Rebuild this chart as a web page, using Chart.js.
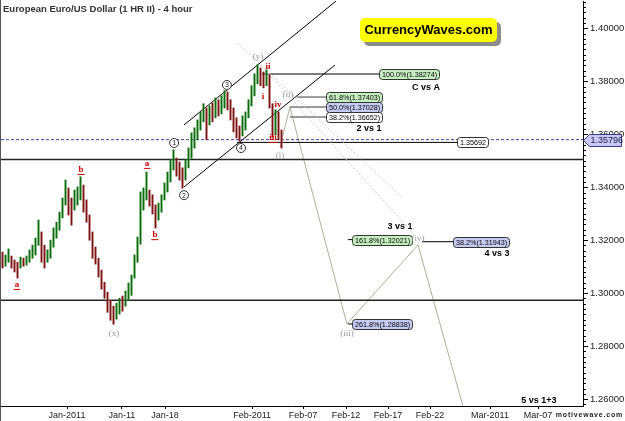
<!DOCTYPE html>
<html>
<head>
<meta charset="utf-8">
<script src="https://cdn.jsdelivr.net/npm/chart.js@4.4.0/dist/chart.umd.min.js"></script>
<style>
html, body { margin: 0; padding: 0; background: #fff; }
canvas { display: block; }
</style>
</head>
<body>
<canvas id="price_chart" width="625" height="421"></canvas>
<script>
// === price bars (one slot = ~8 hours) ===
const barOpen = [
    1.3144, 1.3114, 1.3125, 1.3132, 1.3117, 1.3102, 1.3098, 1.3125, 1.3114, 1.3125,
    1.3144, 1.3155, 1.3189, 1.3216, 1.3144, 1.3125, 1.3147, 1.3181, 1.3223, 1.3249,
    1.3299, 1.3352, 1.3382, 1.3333, 1.3329, 1.3352, 1.3367, 1.3397, 1.3333, 1.3276,
    1.3216, 1.3163, 1.3125, 1.3072, 1.3030, 1.2992, 1.2954, 1.2928, 1.2913, 1.2928,
    1.2977, 1.2958, 1.2985, 1.3008, 1.3068, 1.3132, 1.3200, 1.3333, 1.3367, 1.3382,
    1.3359, 1.3314, 1.3287, 1.3318, 1.3363, 1.3397, 1.3435, 1.3480, 1.3503, 1.3480,
    1.3457, 1.3439, 1.3488, 1.3526, 1.3567, 1.3594, 1.3628, 1.3662, 1.3684, 1.3647,
    1.3707, 1.3677, 1.3718, 1.3692, 1.3715, 1.3749, 1.3715, 1.3681, 1.3639, 1.3616,
    1.3605, 1.3635, 1.3677, 1.3722, 1.3760, 1.3805, 1.3839, 1.3820, 1.3798, 1.3813,
    1.3707, 1.3609, 1.3673, 1.3601
];
const barHigh = [
    1.3155, 1.3144, 1.3167, 1.3140, 1.3125, 1.3117, 1.3136, 1.3132, 1.3140, 1.3163,
    1.3181, 1.3208, 1.3276, 1.3231, 1.3181, 1.3163, 1.3200, 1.3246, 1.3268, 1.3306,
    1.3359, 1.3427, 1.3397, 1.3359, 1.3389, 1.3401, 1.3439, 1.3408, 1.3352, 1.3295,
    1.3231, 1.3174, 1.3132, 1.3087, 1.3041, 1.3004, 1.2973, 1.2951, 1.2962, 1.2981,
    1.2989, 1.3008, 1.3038, 1.3068, 1.3144, 1.3212, 1.3382, 1.3397, 1.3457, 1.3389,
    1.3371, 1.3333, 1.3340, 1.3371, 1.3416, 1.3457, 1.3503, 1.3541, 1.3510, 1.3495,
    1.3473, 1.3503, 1.3548, 1.3605, 1.3624, 1.3654, 1.3684, 1.3715, 1.3699, 1.3707,
    1.3718, 1.3737, 1.3730, 1.3745, 1.3764, 1.3760, 1.3730, 1.3699, 1.3662, 1.3631,
    1.3669, 1.3684, 1.3730, 1.3783, 1.3828, 1.3862, 1.3850, 1.3835, 1.3843, 1.3824,
    1.3715, 1.3692, 1.3684, 1.3616
];
const barLow = [
    1.3095, 1.3102, 1.3117, 1.3095, 1.3080, 1.3057, 1.3095, 1.3102, 1.3106, 1.3117,
    1.3132, 1.3144, 1.3181, 1.3117, 1.3095, 1.3117, 1.3132, 1.3174, 1.3208, 1.3238,
    1.3284, 1.3333, 1.3295, 1.3257, 1.3314, 1.3333, 1.3352, 1.3306, 1.3268, 1.3200,
    1.3132, 1.3110, 1.3061, 1.3015, 1.2981, 1.2928, 1.2898, 1.2883, 1.2902, 1.2921,
    1.2932, 1.2951, 1.2973, 1.2992, 1.3057, 1.3117, 1.3185, 1.3314, 1.3352, 1.3329,
    1.3299, 1.3246, 1.3276, 1.3306, 1.3352, 1.3382, 1.3420, 1.3465, 1.3442, 1.3427,
    1.3397, 1.3427, 1.3473, 1.3510, 1.3548, 1.3579, 1.3616, 1.3647, 1.3579, 1.3635,
    1.3647, 1.3662, 1.3669, 1.3677, 1.3699, 1.3692, 1.3654, 1.3609, 1.3586, 1.3575,
    1.3594, 1.3616, 1.3662, 1.3707, 1.3745, 1.3790, 1.3783, 1.3775, 1.3783, 1.3699,
    1.3590, 1.3597, 1.3579, 1.3548
];
const barClose = [
    1.3106, 1.3136, 1.3155, 1.3106, 1.3087, 1.3083, 1.3129, 1.3110, 1.3132, 1.3155,
    1.3170, 1.3200, 1.3246, 1.3132, 1.3117, 1.3155, 1.3189, 1.3231, 1.3257, 1.3295,
    1.3344, 1.3405, 1.3314, 1.3284, 1.3374, 1.3389, 1.3420, 1.3321, 1.3284, 1.3216,
    1.3155, 1.3132, 1.3072, 1.3030, 1.2996, 1.2943, 1.2913, 1.2906, 1.2951, 1.2973,
    1.2943, 1.3000, 1.3026, 1.3057, 1.3132, 1.3197, 1.3367, 1.3382, 1.3389, 1.3340,
    1.3310, 1.3268, 1.3329, 1.3359, 1.3405, 1.3442, 1.3488, 1.3522, 1.3457, 1.3442,
    1.3427, 1.3491, 1.3533, 1.3586, 1.3613, 1.3639, 1.3669, 1.3699, 1.3605, 1.3692,
    1.3669, 1.3722, 1.3684, 1.3734, 1.3749, 1.3707, 1.3669, 1.3624, 1.3601, 1.3594,
    1.3654, 1.3673, 1.3715, 1.3768, 1.3813, 1.3843, 1.3798, 1.3790, 1.3828, 1.3715,
    1.3609, 1.3677, 1.3594, 1.3571
];

// === axes ===
const slotMin = -0.5, slotMax = 193.5;
const priceMin = 1.2574, priceMax = 1.4103;
const tickSlots = [21.5, 39.8, 54.2, 83.2, 100.2, 114.5, 128.5, 142.5, 162.5, 178.5];
const tickLabels = ['Jan-2011', 'Jan-11', 'Jan-18', 'Feb-2011', 'Feb-07', 'Feb-12', 'Feb-17', 'Feb-22', 'Mar-2011', 'Mar-07'];

// === drawn studies ===
const upperChannel = [[60.5, 1.3635], [111.2, 1.4103]];
const lowerChannel = [[60.5, 1.3401], [110.8, 1.3861]];
const projection = [[92.5, 1.3550], [95.8, 1.37028], [114.8, 1.28838], [138.5, 1.3182], [154.5, 1.2532]];
const guideA = [[78.2, 1.3945], [133.5, 1.3359]];
const guideB = [[87.5, 1.3843], [136.8, 1.3227]];
const supportLines = [1.3505, 1.2973];
const lastPrice = 1.35796;

const levelText  = ['100.0%(1.38274)', '61.8%(1.37403)', '50.0%(1.37028)', '38.2%(1.36652)', '1.35692', '161.8%(1.32021)', '38.2%(1.31943)', '261.8%(1.28838)'];
const levelPrice = [1.38274, 1.37403, 1.37028, 1.36652, 1.35692, 1.32021, 1.31943, 1.28838];
const levelFrom  = [86.5, 98.2, 95.8, 95.8, 78.2, 115.2, 139.8, 115.2];
const levelTo    = [125.5, 107.8, 107.8, 107.8, 151.5, 116.5, 150.2, 116.5];
const levelFill  = ['g', 'g', 'b', 'w', 'w', 'g', 'b', 'b'];

const waveText  = ['(y)', 'ii', 'i', 'iv', 'iii', '(i)', '(ii)', '(iii)', '(iv)', '(x)', '3', '4', '1', '2', 'a', 'b', 'a', 'b'];
const waveSlot  = [85.2, 88.5, 86.8, 91.8, 90.2, 92.5, 95.2, 114.8, 138.5, 37.2, 74.8, 79.5, 57.2, 60.5, 4.8, 26.2, 48.2, 50.8];
const wavePrice = [1.3892, 1.3854, 1.3741, 1.3710, 1.3586, 1.3518, 1.3748, 1.2849, 1.3204, 1.2849, 1.3786, 1.3548, 1.3567, 1.3370, 1.3031, 1.3465, 1.3488, 1.3219];
const waveKind  = ['gray', 'red', 'red', 'red', 'redU', 'gray', 'gray', 'gray', 'gray', 'gray', 'circle', 'circle', 'circle', 'circle', 'redU', 'redU', 'redU', 'redU'];

const noteText  = ['C vs A', '2 vs 1', '3 vs 1', '4 vs 3', '5 vs 1+3'];
const noteSlot  = [141.2, 122.2, 132.5, 164.8, 178.8];
const notePrice = [1.3775, 1.3620, 1.3250, 1.3151, 1.2596];

const sans = "'Liberation Sans', Arial, sans-serif";
const serif = "'Liberation Serif', 'DejaVu Serif', serif";

const priceBars = barOpen.map((o, i) => ({x: i, y: [barLow[i], barHigh[i]]}));
const barUp = i => barClose[i] >= barOpen[i];

function lineSet(pts, color, width, dash) {
    return {
        type: 'line',
        data: pts.map(p => ({x: p[0], y: p[1]})),
        borderColor: color,
        borderWidth: width,
        borderDash: dash || [],
        pointRadius: 0,
        fill: false,
        tension: 0,
        order: 3
    };
}

const studyLines = [
    lineSet(guideA, '#c8c8c8', 1, [2, 2]),
    lineSet(guideB, '#c8c8c8', 1, [2, 2]),
    lineSet([[slotMin, lastPrice], [slotMax, lastPrice]], '#3f3fa6', 1, [3, 2]),
    ...supportLines.map(p => lineSet([[slotMin, p], [slotMax, p]], '#222', 1.5)),
    lineSet(upperChannel, '#000', 1),
    lineSet(lowerChannel, '#000', 1),
    ...levelPrice.map((p, i) => lineSet([[levelFrom[i], p], [levelTo[i], p]], (i >= 1 && i <= 3) ? '#7a7a7a' : '#000', (i >= 1 && i <= 3) ? 1.5 : 1)),
    lineSet(projection, '#b4ad98', 1)
];

// === labels, boxes and the logo ===
const labelsPlugin = {
    id: 'waveLabels',
    beforeDraw(chart) {
        const ctx = chart.ctx;
        ctx.save();
        ctx.fillStyle = '#fff';
        ctx.fillRect(0, 0, chart.width, chart.height);
        ctx.restore();
    },
    afterDatasetsDraw(chart) {
        const ctx = chart.ctx;
        const xs = chart.scales.x, ys = chart.scales.y;
        const area = chart.chartArea;
        ctx.save();
        ctx.beginPath();
        ctx.rect(area.left, area.top, area.right - area.left, area.bottom - area.top);
        ctx.clip();

        // logo
        const lx = area.left + 359, ly = area.top + 17;
        ctx.fillStyle = '#8c8c8c';
        ctx.beginPath(); ctx.roundRect(lx + 4, ly + 4, 137, 24, 5); ctx.fill();
        ctx.fillStyle = '#ffff00';
        ctx.beginPath(); ctx.roundRect(lx, ly, 137, 24, 5); ctx.fill();
        ctx.fillStyle = '#000';
        ctx.font = 'bold 13px ' + sans;
        ctx.textAlign = 'center'; ctx.textBaseline = 'middle';
        ctx.fillText('CurrencyWaves.com', lx + 68.5, ly + 12.5);

        // level boxes
        ctx.font = '7.2px ' + sans;
        ctx.textAlign = 'left';
        levelText.forEach((t, i) => {
            const x = Math.round(xs.getPixelForValue(levelTo[i])) + 0.5;
            const y = Math.round(ys.getPixelForValue(levelPrice[i])) + 0.5;
            const w = Math.round(ctx.measureText(t).width) + 5;
            ctx.fillStyle = levelFill[i] === 'g' ? '#c6efc0' : (levelFill[i] === 'b' ? '#c6cbf3' : '#ffffff');
            ctx.strokeStyle = '#333';
            ctx.lineWidth = 1;
            ctx.beginPath(); ctx.roundRect(x, y - 5, w, 10, 3); ctx.fill(); ctx.stroke();
            ctx.fillStyle = '#000';
            ctx.fillText(t, x + 2.5, y + 0.5);
        });

        // wave labels
        waveText.forEach((t, i) => {
            const x = xs.getPixelForValue(waveSlot[i]);
            const y = ys.getPixelForValue(wavePrice[i]);
            const kind = waveKind[i];
            ctx.textAlign = 'center'; ctx.textBaseline = 'middle';
            if (kind === 'circle') {
                ctx.strokeStyle = '#333'; ctx.lineWidth = 1;
                ctx.fillStyle = '#fff';
                ctx.beginPath(); ctx.arc(x, y, 4.5, 0, Math.PI * 2); ctx.fill(); ctx.stroke();
                ctx.fillStyle = '#222';
                ctx.font = '7px ' + sans;
                ctx.fillText(t, x, y + 0.5);
            } else if (kind === 'gray') {
                ctx.fillStyle = '#9a9a9a';
                ctx.font = '9px ' + serif;
                ctx.fillText(t, x, y);
            } else {
                ctx.fillStyle = '#cc0000';
                ctx.font = 'bold 9px ' + serif;
                ctx.fillText(t, x, y);
                if (kind === 'redU') {
                    const w = ctx.measureText(t).width;
                    ctx.fillRect(x - w / 2 - 1, y + 4, w + 2, 1);
                }
            }
        });

        // notes
        ctx.fillStyle = '#000';
        ctx.font = 'bold 9px ' + sans;
        noteText.forEach((t, i) => {
            ctx.fillText(t, xs.getPixelForValue(noteSlot[i]), ys.getPixelForValue(notePrice[i]));
        });

        // title
        ctx.textAlign = 'left';
        ctx.fillStyle = '#333';
        ctx.font = 'bold 9.5px ' + sans;
        ctx.fillText('European Euro/US Dollar (1 HR II) - 4 hour', 3, 9);
        ctx.restore();
    },
    afterDraw(chart) {
        const ctx = chart.ctx;
        const ys = chart.scales.y;
        const area = chart.chartArea;
        ctx.save();
        // minor ticks on the price axis
        ctx.strokeStyle = '#000'; ctx.lineWidth = 1;
        ctx.beginPath();
        for (let k = Math.ceil(priceMin / 0.002); k * 0.002 <= priceMax; k++) {
            const y = Math.round(ys.getPixelForValue(k * 0.002)) + 0.5;
            ctx.moveTo(area.right, y); ctx.lineTo(area.right + 3, y);
        }
        ctx.stroke();

        // last price marker
        const y = Math.round(ys.getPixelForValue(lastPrice)) + 0.5;
        const x = area.right + 0.5;
        ctx.fillStyle = '#c8c8f2'; ctx.strokeStyle = '#3c3c8c';
        ctx.beginPath();
        ctx.moveTo(x, y); ctx.lineTo(x + 6, y - 6); ctx.lineTo(x + 38, y - 6);
        ctx.lineTo(x + 38, y + 6); ctx.lineTo(x + 6, y + 6); ctx.closePath();
        ctx.fill(); ctx.stroke();
        ctx.fillStyle = '#1a1a50';
        ctx.font = '9px ' + sans;
        ctx.textAlign = 'left'; ctx.textBaseline = 'middle';
        ctx.fillText(lastPrice.toFixed(5), x + 7, y + 0.5);

        // footer mark
        ctx.fillStyle = '#222';
        ctx.font = 'bold 7px ' + sans;
        ctx.letterSpacing = '0.8px';
        ctx.textAlign = 'right';
        ctx.fillText('motivewave.com', 623, 415);

        // frame
        ctx.strokeStyle = '#555';
        ctx.beginPath(); ctx.moveTo(0.5, 0); ctx.lineTo(0.5, chart.height); ctx.stroke();
        ctx.restore();
    }
};

// === display chart ===
var priceChart = new Chart(document.getElementById('price_chart'), {
    type: 'bar',
    data: {
        datasets: [
            {type: 'bar', data: priceBars, grouped: false, barThickness: 1, order: 1,
             backgroundColor: c => barUp(c.dataIndex) ? '#0d6b0d' : '#7b1515'},
            {type: 'bar', data: priceBars, grouped: false, barThickness: 2, order: 2,
             backgroundColor: c => barUp(c.dataIndex) ? 'rgba(110,185,110,0.45)' : 'rgba(200,125,125,0.45)'},
            ...studyLines
        ]
    },
    options: {
        responsive: false,
        animation: false,
        events: [],
        layout: {autoPadding: false, padding: {top: 1, left: 1, right: 0, bottom: 0}},
        plugins: {legend: {display: false}, tooltip: {enabled: false}},
        scales: {
            x: {
                type: 'linear', min: slotMin, max: slotMax, offset: false,
                afterFit: s => { s.height = 15; s.paddingLeft = 0; s.paddingRight = 0; },
                afterBuildTicks: s => { s.ticks = tickSlots.map(v => ({value: v})); },
                border: {display: true, color: '#000', width: 1},
                grid: {drawOnChartArea: false, offset: false, tickLength: 3, tickColor: '#000'},
                ticks: {autoSkip: false, maxRotation: 0, padding: 1, color: '#222',
                        font: {size: 9, family: sans}, callback: (v, i) => tickLabels[i]}
            },
            y: {
                type: 'linear', position: 'right', min: priceMin, max: priceMax,
                afterFit: s => { s.width = 42; s.paddingTop = 0; s.paddingBottom = 0; },
                border: {display: true, color: '#000', width: 1},
                grid: {drawOnChartArea: false, tickLength: 5, tickColor: '#000'},
                ticks: {stepSize: 0.02, includeBounds: false, padding: 2, color: '#222',
                        font: {size: 9.5, family: sans}, callback: v => v.toFixed(5)}
            }
        }
    },
    plugins: [labelsPlugin]
});
</script>
</body>
</html>
